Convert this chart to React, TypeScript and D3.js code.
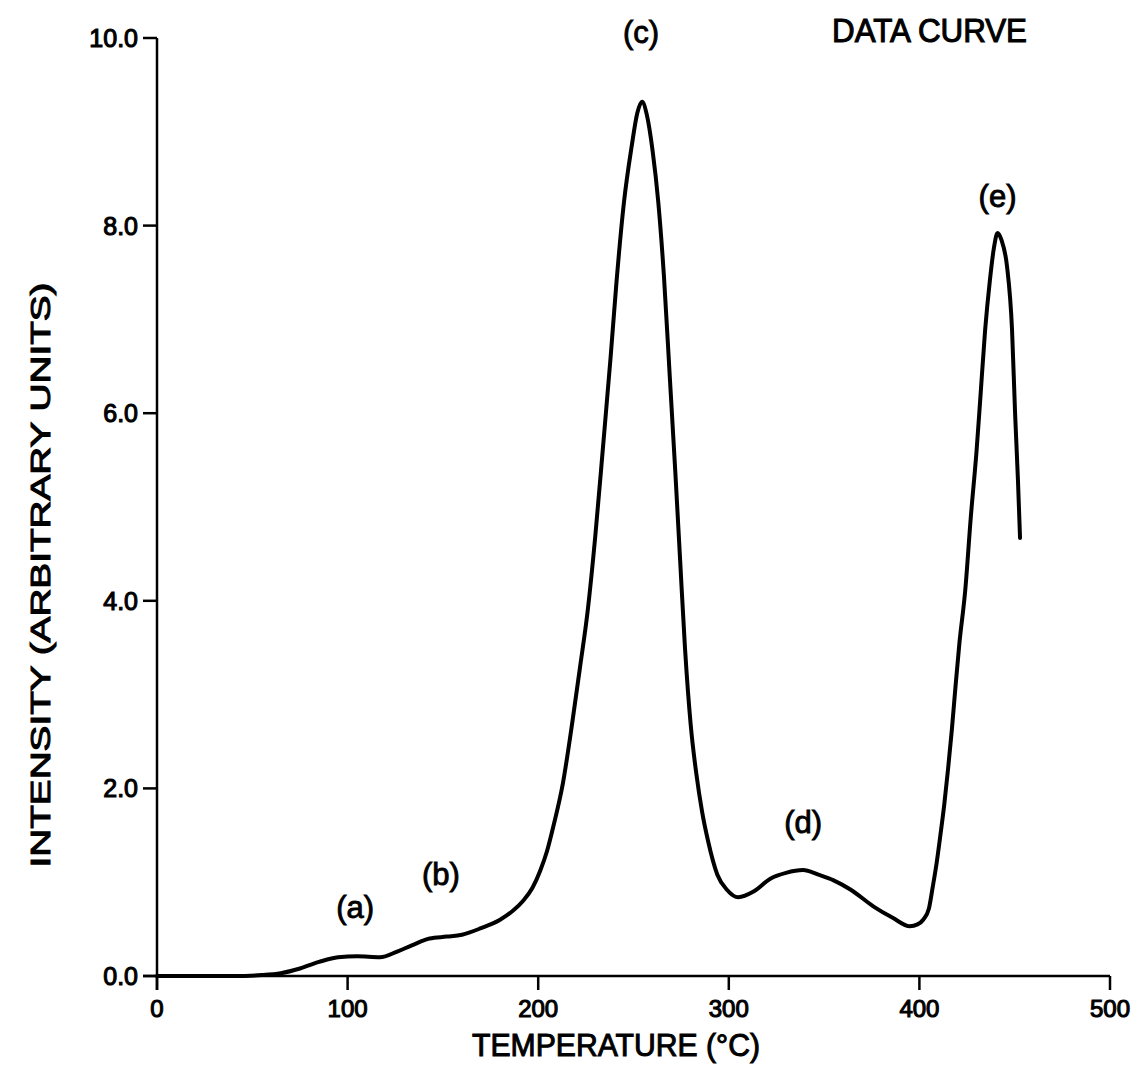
import React from "react"
import { scaleLinear, line, curveMonotoneX } from "d3"

// temperature (deg C)
const temps = [
  0, 20, 40, 55, 65, 75, 85, 95, 105, 117, 126, 134, 143, 152, 160, 170, 180,
  187, 192, 197, 201, 204.6, 208, 213, 218, 222, 226, 230, 234, 238, 241, 245,
  249, 252, 254.5, 257, 260, 263, 266, 269, 272, 274.5, 277, 280, 283, 286,
  289, 294, 299, 305, 313, 322, 330, 339, 347, 355, 364, 376, 386, 395, 399,
  402, 405, 407, 409, 411, 413, 415, 417, 419, 421, 424, 427, 430, 432, 434.5,
  437, 439, 441, 443, 446, 448.6, 450.2, 451.7, 452.8
]
const intensity = [
  0, 0, 0, 0.01, 0.03, 0.08, 0.15, 0.2, 0.21, 0.2, 0.26, 0.33, 0.4, 0.42,
  0.44, 0.51, 0.6, 0.7, 0.8, 0.94, 1.12, 1.33, 1.6, 2.06, 2.72, 3.3, 3.9,
  4.7, 5.64, 6.6, 7.38, 8.25, 8.84, 9.2, 9.32, 9.18, 8.8, 8.25, 7.45, 6.4,
  5.35, 4.42, 3.5, 2.68, 2.15, 1.75, 1.45, 1.08, 0.92, 0.84, 0.9, 1.04, 1.1,
  1.13, 1.08, 1.02, 0.92, 0.74, 0.62, 0.53, 0.55, 0.6, 0.72, 0.95, 1.2, 1.5,
  1.82, 2.2, 2.62, 3.1, 3.55, 4.1, 4.9, 5.6, 6.17, 6.89, 7.42, 7.75, 7.92,
  7.85, 7.56, 6.89, 6.0, 5.29, 4.67
]

const xTicks = [0, 100, 200, 300, 400, 500]
const yTicks = [0, 2, 4, 6, 8, 10]

// peak labels and where they sit (temperature, intensity of baseline)
const peakLabels = ["(a)", "(b)", "(c)", "(d)", "(e)"]
const peakTemps = [104, 149, 254, 339, 441]
const peakLevels = [0.62, 0.97, 9.95, 1.52, 8.2]

const font = "'Liberation Sans', Arial, sans-serif"

export default function App() {
  const width = 1139
  const height = 1070
  const margin = { top: 38, right: 29, bottom: 94, left: 157 }

  const x = scaleLinear()
    .domain([0, 500])
    .range([margin.left, width - margin.right])
  const y = scaleLinear()
    .domain([0, 10])
    .range([height - margin.bottom, margin.top])

  const data = temps.map((t, i) => [t, intensity[i]])
  const path = line()
    .x(d => x(d[0]))
    .y(d => y(d[1]))
    .curve(curveMonotoneX)(data)

  const y0 = y(0)
  const tick = 14

  return (
    <svg
      width={width}
      height={height}
      style={{ position: "absolute", left: 0, top: 0, background: "#fff" }}
      fontFamily={font}
    >
      {/* axes */}
      <line x1={x(0)} x2={x(0)} y1={y(10)} y2={y0 + tick} stroke="#000" strokeWidth={2.5} />
      <line x1={x(0) - tick} x2={x(500)} y1={y0} y2={y0} stroke="#000" strokeWidth={2.5} />
      {yTicks.map(v => (
        <g key={"y" + v}>
          <line x1={x(0) - tick} x2={x(0)} y1={y(v)} y2={y(v)} stroke="#000" strokeWidth={2.5} />
          <text
            x={x(0) - 19}
            y={y(v) + 9}
            textAnchor="end"
            fontSize={25}
            stroke="#000"
            strokeWidth={1.1}
          >
            {v.toFixed(1)}
          </text>
        </g>
      ))}
      {xTicks.map(v => (
        <g key={"x" + v}>
          <line x1={x(v)} x2={x(v)} y1={y0} y2={y0 + tick} stroke="#000" strokeWidth={2.5} />
          <text
            x={x(v)}
            y={y0 + 41}
            textAnchor="middle"
            fontSize={24}
            stroke="#000"
            strokeWidth={1.1}
          >
            {v}
          </text>
        </g>
      ))}

      {/* curve */}
      <path d={path} fill="none" stroke="#000" strokeWidth={4} strokeLinejoin="round" strokeLinecap="round" />

      {/* peak labels */}
      {peakLabels.map((s, i) => (
        <text
          key={s}
          x={x(peakTemps[i])}
          y={y(peakLevels[i])}
          textAnchor="middle"
          fontSize={31}
          stroke="#000"
          strokeWidth={0.9}
        >
          {s}
        </text>
      ))}

      <text
        x={832}
        y={42}
        fontSize={34}
        textLength={195}
        lengthAdjust="spacingAndGlyphs"
        stroke="#000"
        strokeWidth={1.1}
      >
        DATA CURVE
      </text>

      {/* axis titles */}
      <text
        x={472}
        y={1056}
        fontSize={31}
        textLength={288}
        lengthAdjust="spacingAndGlyphs"
        stroke="#000"
        strokeWidth={1}
      >
        TEMPERATURE (°C)
      </text>
      <text
        transform="translate(50,575) rotate(-90)"
        textAnchor="middle"
        fontSize={28}
        textLength={585}
        lengthAdjust="spacingAndGlyphs"
        stroke="#000"
        strokeWidth={1}
      >
        INTENSITY (ARBITRARY UNITS)
      </text>
    </svg>
  )
}
